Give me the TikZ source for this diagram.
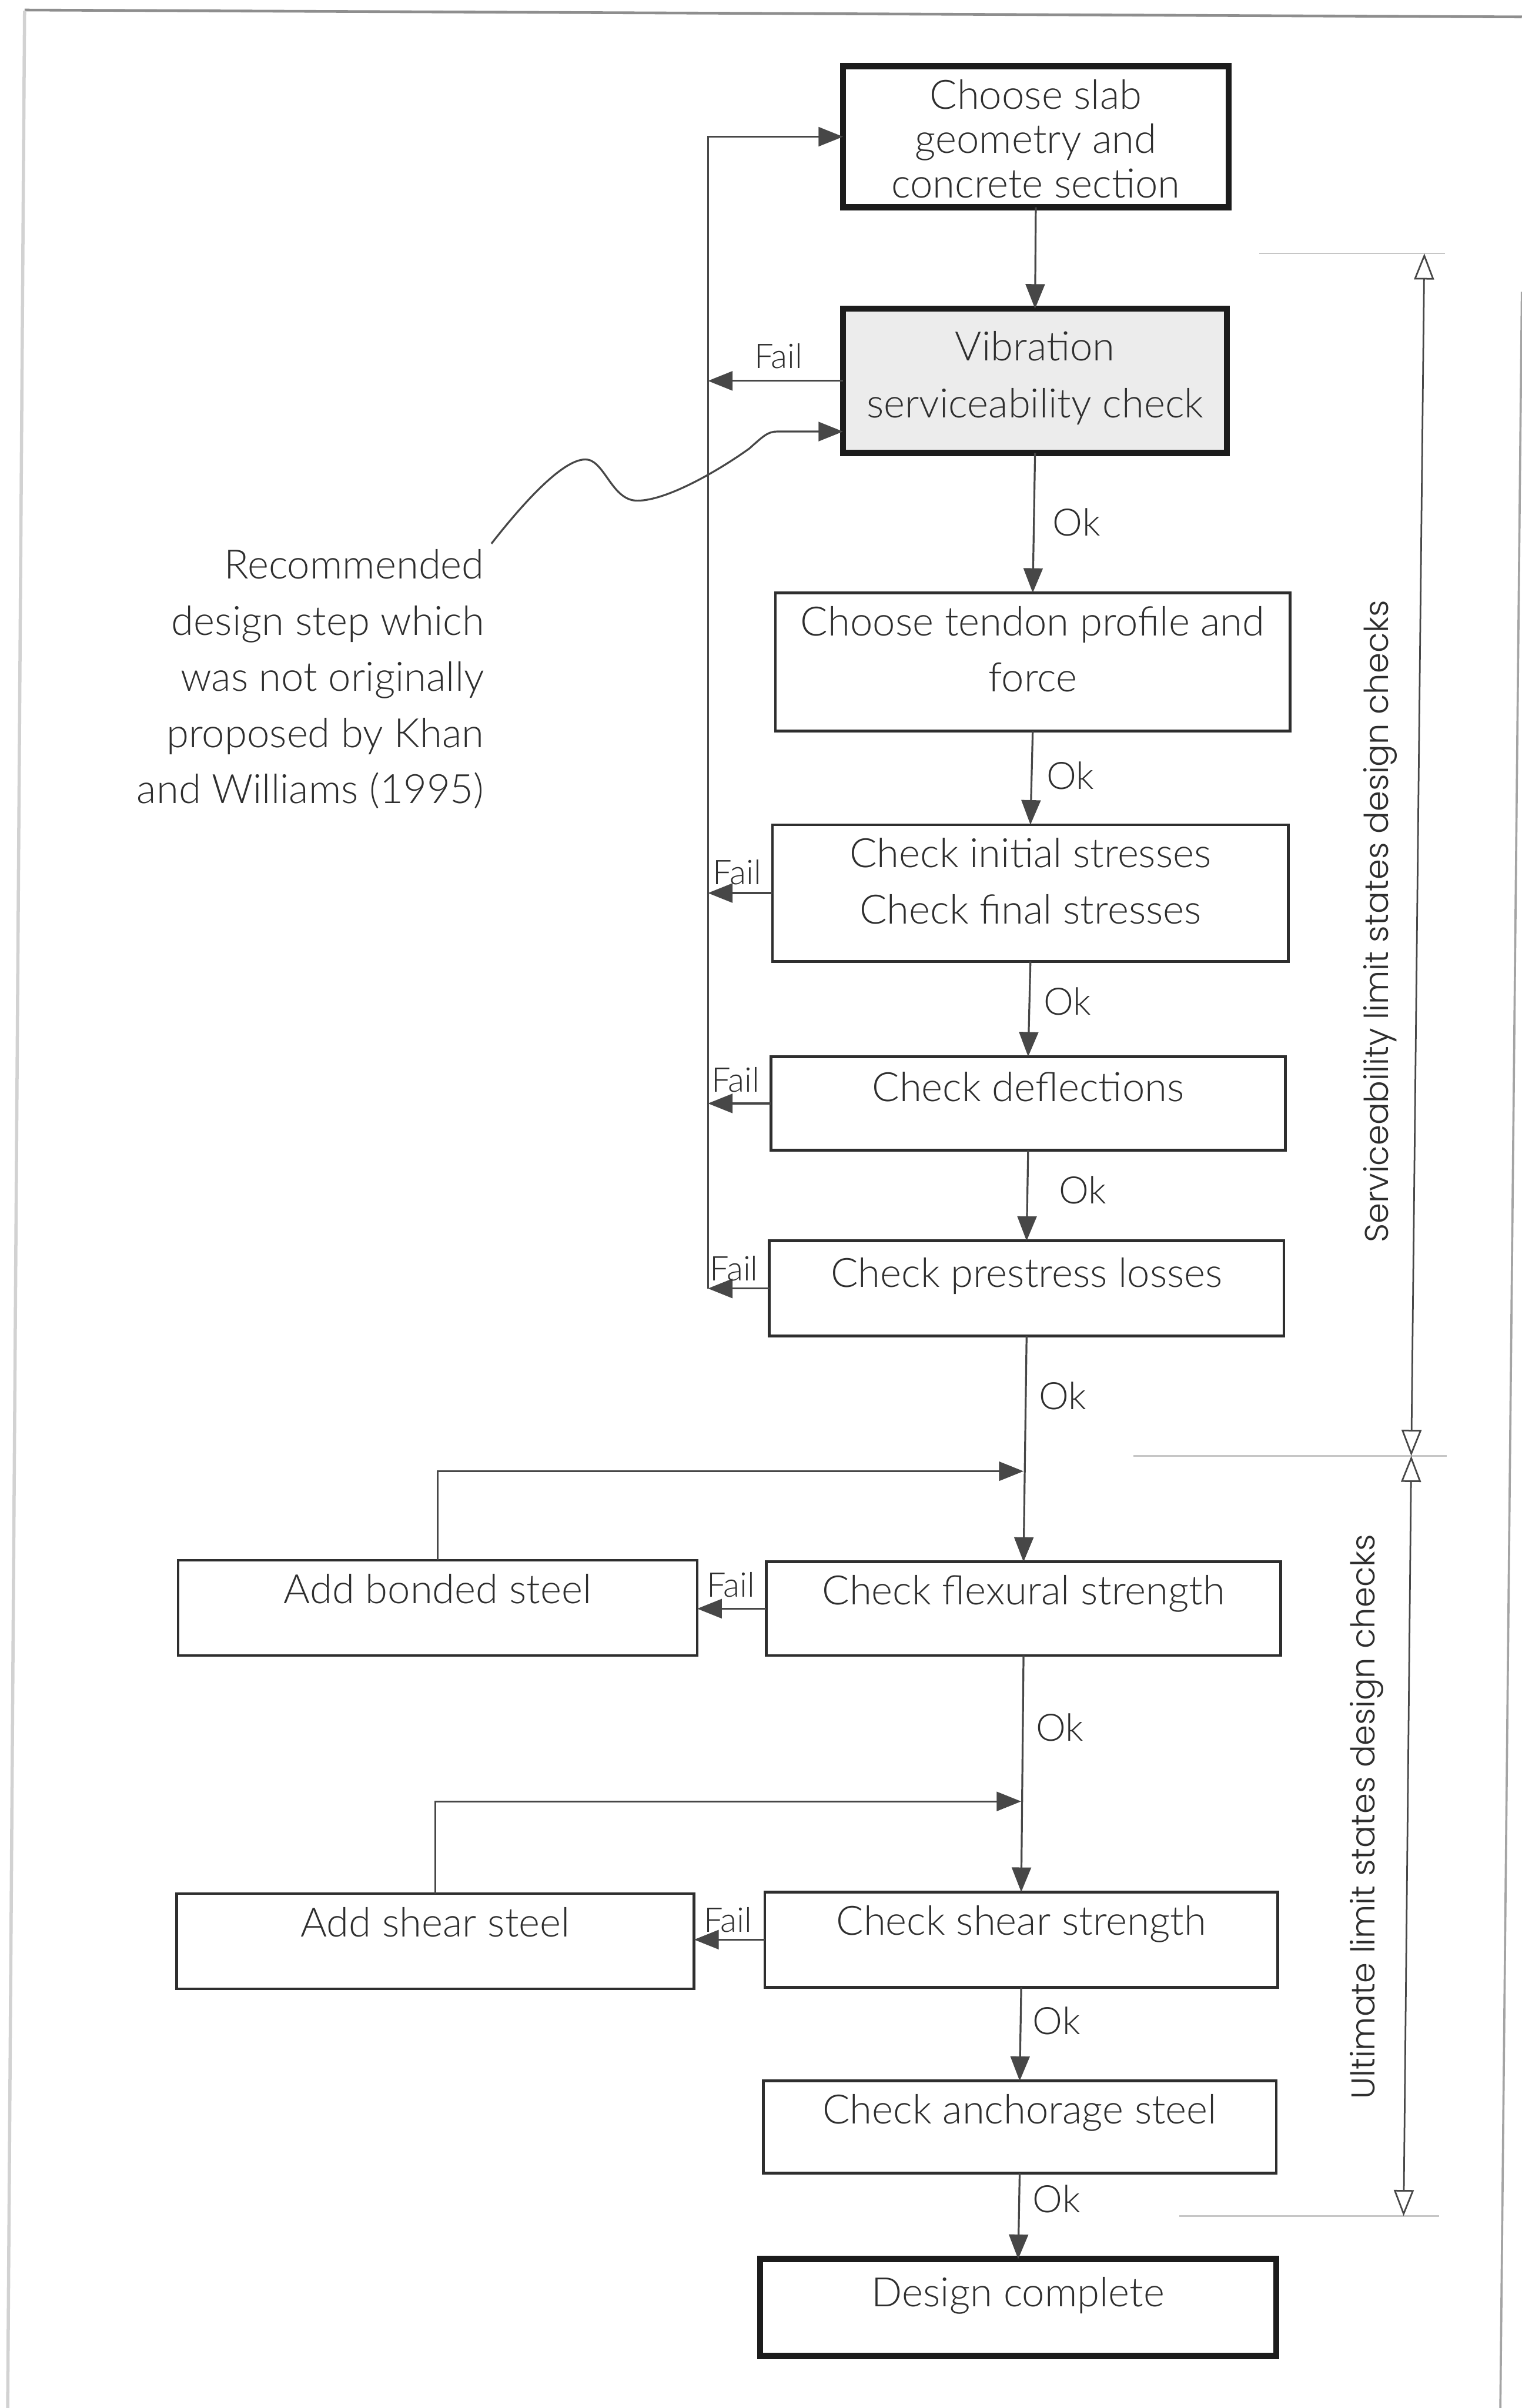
\documentclass[tikz,border=0pt]{standalone}
\usepackage{fontspec}
\setmainfont{Lato Light}
\newfontfamily\dimfont{Poppins Light}
\usetikzlibrary{arrows.meta}

\definecolor{ink}{HTML}{2E2E2E}
\definecolor{wire}{HTML}{474747}
\definecolor{rim}{HTML}{2E2E2E}
\definecolor{heavyrim}{HTML}{1C1C1C}
\definecolor{shade}{HTML}{ECECEC}
\definecolor{guide}{HTML}{C6C6C6}
\definecolor{frameline}{HTML}{8E8E8E}
\definecolor{edgeline}{HTML}{D2D2D2}

% centred / right-aligned stacks whose baseline is the first line
\newcommand\stack[1]{\begin{tabular}[t]{@{}c@{}}#1\end{tabular}}
\newcommand\rstack[1]{\begin{tabular}[t]{@{}r@{}}#1\end{tabular}}

% \flowbox{style}{name}{left}{right}{top}{bottom}{first baseline}{text}
\newcommand\flowbox[8]{%
  \pgfmathsetmacro\fbx{(#3+#4)/2}%
  \pgfmathsetmacro\fbw{(#4-#3)*0.1}%
  \pgfmathsetmacro\fbh{(#7-#5)*0.1}%
  \pgfmathsetmacro\fbd{(#6-#7)*0.1}%
  \node[#1, minimum width=\fbw mm, text height=\fbh mm, text depth=\fbd mm] (#2) at (\fbx,#5) {#8};}

\tikzset{
  box/.style={draw=rim, line width=0.5pt, fill=white, inner sep=0pt, outer sep=0pt,
    anchor=north, font=\fontsize{7.5}{10.4}\selectfont, text=ink},
  heavy/.style={box, draw=heavyrim, line width=1.15pt},
  conn/.style={draw=wire, line width=0.35pt, -{Triangle[length=1.6mm,width=1.25mm]}},
  okl/.style={font=\fontsize{7}{8}\selectfont, text=ink, inner sep=0pt},
  faill/.style={font=\fontsize{6.3}{7}\selectfont, text=ink, inner sep=0pt},
  dimline/.style={draw=wire, line width=0.3pt,
    {Triangle[open,length=1.7mm,width=1.3mm]}-{Triangle[open,length=1.7mm,width=1.3mm]}},
  guideline/.style={draw=guide, line width=0.3pt},
  dimtext/.style={font=\dimfont\fontsize{6.1}{7}\selectfont, text=ink, rotate=90, inner sep=0pt},
  note/.style={font=\fontsize{7.5}{10.4}\selectfont, text=ink, inner sep=0pt, align=right}
}

\begin{document}
\begin{tikzpicture}[x=0.1mm, y=-0.1mm]
  \fill[white] (0,0) rectangle (991,1568);
  \useasboundingbox (0,0) rectangle (991,1568);

  % page frame
  \draw[frameline, line width=0.5pt] (16,6.5) -- (991,11);
  \draw[frameline!80, line width=0.4pt] (991,190) -- (977,1568);
  \draw[edgeline, line width=0.6pt] (16,7) -- (5,1568);

  % flow boxes
  \flowbox{heavy, font=\fontsize{7.5}{8.2}\selectfont}{b1}{549}{800}{43}{135}{71}
    {\stack{Choose slab\\geometry and\\concrete section}}
  \flowbox{heavy, fill=shade, font=\fontsize{7.5}{10.5}\selectfont}{b2}{549}{799}{201}{295}{235}
    {\stack{Vibration\\serviceability check}}
  \flowbox{box}{b3}{505}{840}{386}{476}{414}{\stack{Choose tendon profile and\\force}}
  \flowbox{box}{b4}{503}{839}{537}{626}{565}{\stack{Check initial stresses\\Check final stresses}}
  \flowbox{box}{b5}{502}{837}{688}{749}{717}{Check deflections}
  \flowbox{box}{b6}{501}{836}{808}{870}{838}{Check prestress losses}
  \flowbox{box}{b7}{499}{834}{1017}{1078}{1045}{Check flexural strength}
  \flowbox{box}{b8}{116}{454}{1016}{1078}{1044}{Add bonded steel}
  \flowbox{box}{b9}{498}{832}{1232}{1294}{1260}{Check shear strength}
  \flowbox{box}{b10}{115}{452}{1233}{1295}{1261}{Add shear steel}
  \flowbox{box}{b11}{497}{831}{1355}{1415}{1383}{Check anchorage steel}
  \flowbox{heavy}{b12}{495}{831}{1471}{1534}{1502}{Design complete}

  % main sequence
  \draw[conn] (b1.south) -- (b2.north);
  \draw[conn] (b2.south) -- (b3.north);
  \draw[conn] (b3.south) -- (b4.north);
  \draw[conn] (b4.south) -- (b5.north);
  \draw[conn] (b5.south) -- (b6.north);
  \draw[conn] (b6.south) -- (b7.north);
  \draw[conn] (b7.south) -- (b9.north);
  \draw[conn] (b9.south) -- (b11.north);
  \draw[conn] (b11.south) -- (b12.north);

  \node[okl] (ok1) at (701,340) {Ok};
  \node[okl] (ok2) at (697,505) {Ok};
  \node[okl] (ok3) at (695,652) {Ok};
  \node[okl] (ok4) at (705,775) {Ok};
  \node[okl] (ok5) at (692,909) {Ok};
  \node[okl] (ok6) at (690,1125) {Ok};
  \node[okl] (ok7) at (688,1316) {Ok};
  \node[okl] (ok8) at (688,1432) {Ok};

  % serviceability failures return to the first step
  \coordinate (retx) at (461,0);
  \draw[conn] (b2.west) -- (b2.west -| retx);
  \draw[conn] (b4.west) -- (b4.west -| retx);
  \draw[conn] (b5.west) -- (b5.west -| retx);
  \draw[conn] (b6.west) -- (b6.west -| retx);
  \draw[conn] (b6.west -| retx) |- (b1.west);

  \node[faill] (f2) at (507,232) {Fail};
  \node[faill] (f4) at (480,568) {Fail};
  \node[faill] (f5) at (479,703) {Fail};
  \node[faill] (f6) at (478,826) {Fail};

  % ultimate limit state loops
  \draw[conn] (b7.west) -- (b7.west -| b8.east);
  \draw[conn] (b8.north) |- (b7.north |- 0,958);
  \node[faill] (f7) at (476,1032) {Fail};

  \draw[conn] (b9.west) -- (b9.west -| b10.east);
  \draw[conn] (b10.north) |- (b9.north |- 0,1173);
  \node[faill] (f9) at (474,1250) {Fail};

  % note on the added step
  \node[note, anchor=base east] (note) at (316,377)
    {\rstack{Recommended\\design step which\\was not originally\\proposed by Khan\\and Williams (1995)}};
  \coordinate (noteTail) at (320,354);
  \draw[conn] (noteTail) .. controls (345,322) and (372,294) .. (385,300)
    .. controls (395,305) and (400,326) .. (415,326)
    .. controls (435,326) and (470,305) .. (488,292)
    .. controls (497,284) and (500,281) .. (506,281)
    -- (b2.west |- 0,281);

  % limit-state ranges
  \coordinate (g1) at (927.5,165);
  \coordinate (g2) at (919,948);
  \coordinate (g3) at (914,1443);
  \draw[guideline] (820,165) -- (941,165);
  \draw[guideline] (738,948) -- (942,948);
  \draw[guideline] (768,1443) -- (937,1443);
  \draw[dimline] (g1) -- (g2);
  \draw[dimline] (g2) -- (g3);
  \node[dimtext] (sls) at (899,600) {Serviceability limit states design checks};
  \node[dimtext] (uls) at (890,1183) {Ultimate limit states design checks};
\end{tikzpicture}
\end{document}
